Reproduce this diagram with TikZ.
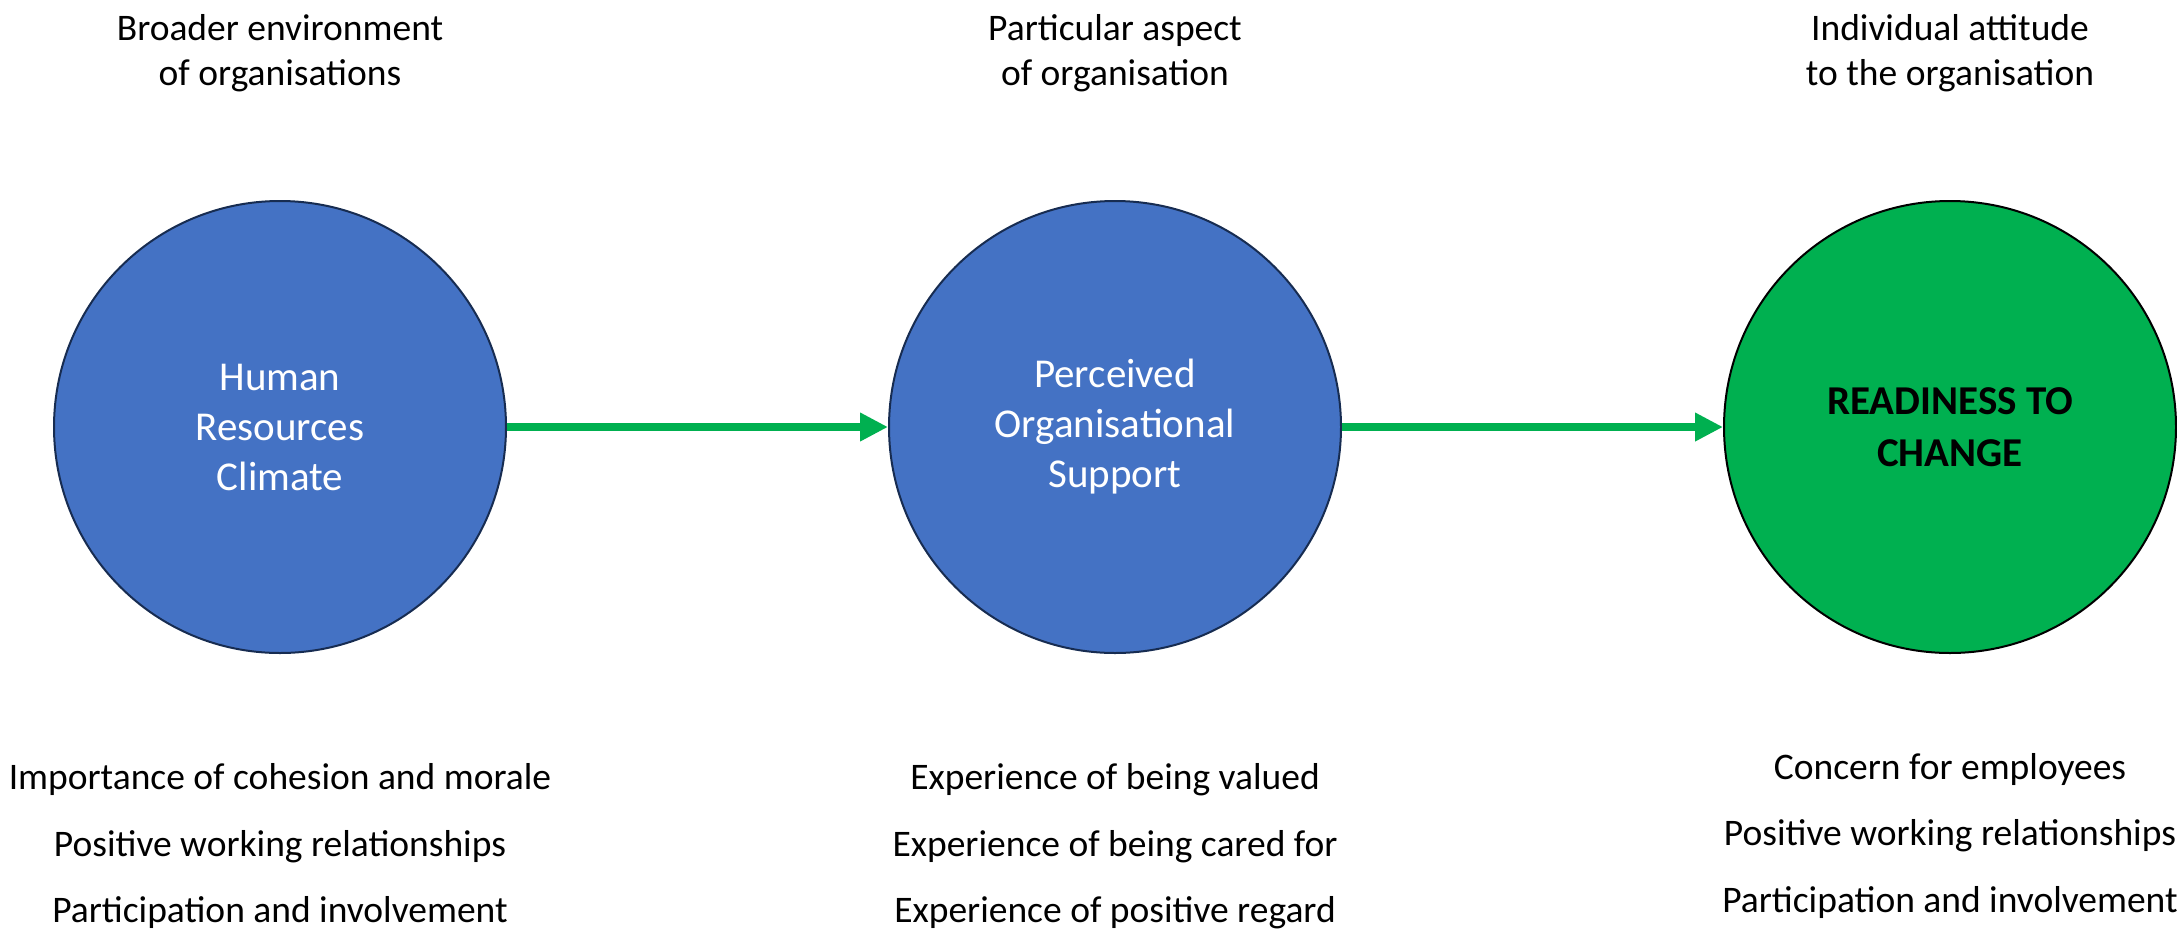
\documentclass[tikz,border=0pt]{standalone}
\usepackage{fontspec}
\setmainfont{Carlito}
\usetikzlibrary{arrows.meta}

\definecolor{hrblue}{HTML}{4472C4}
\definecolor{hrrim}{HTML}{172C51}
\definecolor{rtcgreen}{HTML}{00B050}

\tikzset{
  factor/.style={circle, minimum size=452pt, inner sep=0pt, fill=hrblue, draw=hrrim,
    line width=2pt, text=white, align=center, font=\fontsize{41}{50}\selectfont},
  outcome/.style={factor, fill=rtcgreen, draw=black, text=black,
    font=\fontsize{41}{52}\selectfont\bfseries},
  caption/.style={anchor=base, inner sep=0pt, font=\fontsize{37.5}{45}\selectfont},
  link/.style={-{Triangle[length=28pt,width=27pt]}, line width=8.7pt, draw=rtcgreen},
}

\begin{document}
\begin{tikzpicture}[x=1pt,y=-1pt]
\useasboundingbox (0,0) rectangle (2177,930);

% the three circles
\node[factor] (hrc) at (280,427) {Human\\Resources\\Climate};
\node[factor] (pos) at (1115,427) {Perceived\\Organisational\\Support};
\node[outcome] (rtc) at (1950,427) {READINESS TO\\CHANGE};

% arrows
\draw[link] (hrc) -- (pos);
\draw[link] (pos) -- (rtc);

% headings over the circles
\node[caption] (hrcup1) at (280,40) {Broader environment};
\node[caption] (hrcup2) at (280,85) {of organisations};
\node[caption] (posup1) at (1115,40) {Particular aspect};
\node[caption] (posup2) at (1115,85) {of organisation};
\node[caption] (rtcup1) at (1950,40) {Individual attitude};
\node[caption] (rtcup2) at (1950,85) {to the organisation};

% items under the circles
\node[caption] (hrcdn1) at (280,789) {Importance of cohesion and morale};
\node[caption] (hrcdn2) at (280,856) {Positive working relationships};
\node[caption] (hrcdn3) at (280,922) {Participation and involvement};

\node[caption] (posdn1) at (1115,789) {Experience of being valued};
\node[caption] (posdn2) at (1115,856) {Experience of being cared for};
\node[caption] (posdn3) at (1115,922) {Experience of positive regard};

\node[caption] (rtcdn1) at (1950,779) {Concern for employees};
\node[caption] (rtcdn2) at (1950,845) {Positive working relationships};
\node[caption] (rtcdn3) at (1950,912) {Participation and involvement};

\end{tikzpicture}
\end{document}
